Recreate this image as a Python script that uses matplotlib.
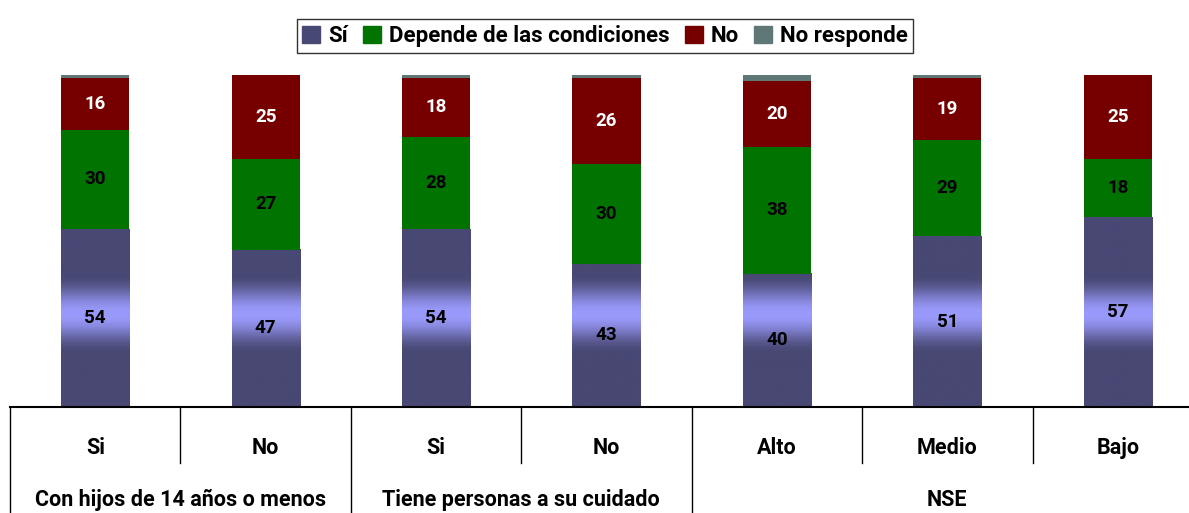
import matplotlib.pyplot as plt
import numpy as np
from matplotlib.patches import Patch

plt.rcParams['font.family'] = ['Roboto', 'Open Sans', 'DejaVu Sans']
plt.rcParams['font.weight'] = 'bold'

categories = ["Si", "No", "Si", "No", "Alto", "Medio", "Bajo"]
groups = ["Con hijos de 14 años o menos", "Tiene personas a su cuidado", "NSE"]
group_sizes = [2, 2, 3]

si = np.array([53.6, 47.4, 53.6, 43.2, 40.2, 51.4, 57.2])
depende = np.array([29.9, 27.2, 27.8, 29.9, 38.2, 28.9, 17.6])
no = np.array([15.6, 25.4, 17.7, 25.9, 19.8, 18.8, 25.2])
no_responde = np.array([0.9, 0.0, 0.9, 1.0, 1.8, 0.9, 0.0])

c_si_dark = np.array([0x48, 0x48, 0x74]) / 255
c_si_light = np.array([0x9a, 0x9a, 0xfc]) / 255
c_dep = '#007300'
c_no = '#760000'
c_nr = '#5f7777'

fig = plt.figure(figsize=(11.89, 5.13), dpi=100)
ax = fig.add_axes([10 / 1189, 106 / 513, 1193 / 1189, 332 / 513])

x = np.arange(len(categories))
w = 0.4

# gradient for the "Sí" segments (fixed in value space, light around ~28)
for xi, h in zip(x, si):
    yy = np.linspace(h, 0, 300)
    t = np.clip(1 - np.abs(yy - 28) / 12, 0, 1)
    t = 0.5 - 0.5 * np.cos(np.pi * t)
    img = c_si_dark[None, :] * (1 - t[:, None]) + c_si_light[None, :] * t[:, None]
    img = np.repeat(img[:, None, :], 2, axis=1)
    ax.imshow(img, extent=[xi - w / 2, xi + w / 2, 0, h], aspect='auto',
              interpolation='bilinear', zorder=2)

ax.bar(x, depende, w, bottom=si, color=c_dep, zorder=2)
ax.bar(x, no, w, bottom=si + depende, color=c_no, zorder=2)
ax.bar(x, no_responde, w, bottom=si + depende + no, color=c_nr, zorder=2)

fs = 13.5
for xi in x:
    ax.text(xi, si[xi] / 2, f"{si[xi]:.0f}", ha='center', va='center',
            fontsize=fs, fontweight='bold', color='black', zorder=3)
    ax.text(xi, si[xi] + depende[xi] / 2, f"{depende[xi]:.0f}", ha='center',
            va='center', fontsize=fs, fontweight='bold', color='black', zorder=3)
    ax.text(xi, si[xi] + depende[xi] + no[xi] / 2, f"{no[xi]:.0f}", ha='center',
            va='center', fontsize=fs, fontweight='bold', color='white', zorder=3)

ax.set_xlim(-0.5, len(categories) - 0.5)
ax.set_ylim(0, 100)
for s in ['top', 'right', 'left']:
    ax.spines[s].set_visible(False)
ax.spines['bottom'].set_linewidth(1.5)
ax.set_xticks([])
ax.set_yticks([])

# table-like category axis
tr = ax.get_xaxis_transform()
full_bottom = -106 / 332
short_bottom = -56 / 332
boundaries = {0}
pos = 0
for n in group_sizes:
    pos += n
    boundaries.add(pos)
for b in range(len(categories) + 1):
    low = full_bottom if b in boundaries else short_bottom
    ax.plot([b - 0.5, b - 0.5], [0, low], transform=tr, color='black',
            lw=1, clip_on=False)

for xi, cat in zip(x, categories):
    ax.text(xi, -41 / 332, cat, transform=tr, ha='center', va='center',
            fontsize=15.5, fontweight='bold')

start = 0
for g, n in zip(groups, group_sizes):
    ax.text(start - 0.5 + n / 2, -93 / 332, g, transform=tr, ha='center',
            va='center', fontsize=15.5, fontweight='bold')
    start += n

handles = [Patch(color=tuple(c_si_dark), label='Sí'),
           Patch(color=c_dep, label='Depende de las condiciones'),
           Patch(color=c_no, label='No'),
           Patch(color=c_nr, label='No responde')]
leg = fig.legend(handles=handles, loc='center', bbox_to_anchor=(605 / 1189, 1 - 36 / 513),
                 ncol=4, frameon=True, fancybox=False, edgecolor='black',
                 prop={'size': 16, 'weight': 'bold'}, handlelength=0.8,
                 handleheight=0.8, handletextpad=0.35, columnspacing=0.7,
                 borderpad=0.25)
leg.get_frame().set_linewidth(1)

fig.savefig('out.png', dpi=100)
